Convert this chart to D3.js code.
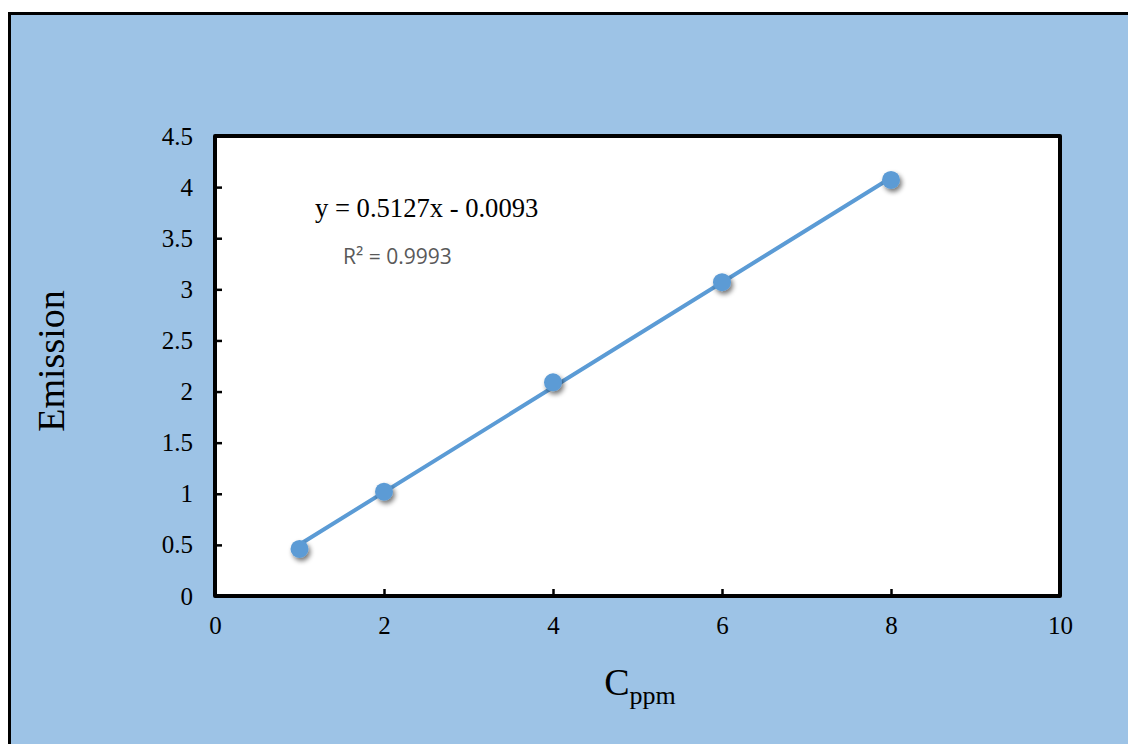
<!DOCTYPE html>
<html>
<head>
<meta charset="utf-8">
<script src="https://cdn.jsdelivr.net/npm/d3@7"></script>
<style>
  html, body { margin: 0; padding: 0; background: #ffffff; }
  svg { display: block; }
</style>
</head>
<body>
<svg id="chart" width="1128" height="744"></svg>
<script>
// Calibration data: concentration (ppm) vs. emission
const concentrations = [1, 2, 4, 6, 8];
const emissions = [0.46, 1.02, 2.09, 3.07, 4.07];

// Linear fit reported on the chart
const slope = 0.5127;
const intercept = -0.0093;
const rSquared = 0.9993;

// Axis ticks
const xTicks = [0, 2, 4, 6, 8, 10];
const yTicks = [0, 0.5, 1, 1.5, 2, 2.5, 3, 3.5, 4, 4.5];

const svg = d3.select("#chart");

// Light blue frame with black border (runs past the right/bottom edge)
svg.append("rect")
  .attr("x", 9.5).attr("y", 13.5)
  .attr("width", 1140).attr("height", 760)
  .attr("fill", "#9DC3E6")
  .attr("stroke", "#000").attr("stroke-width", 3);

const plot = { left: 215, right: 1060, top: 136, bottom: 596 };

const x = d3.scaleLinear().domain([0, 10]).range([plot.left, plot.right]);
const y = d3.scaleLinear().domain([0, 4.5]).range([plot.bottom, plot.top]);

// Marker shadow
const defs = svg.append("defs");
const f = defs.append("filter").attr("id", "shadow")
  .attr("x", "-50%").attr("y", "-50%").attr("width", "200%").attr("height", "200%");
f.append("feGaussianBlur").attr("in", "SourceAlpha").attr("stdDeviation", 2.4).attr("result", "b");
f.append("feOffset").attr("in", "b").attr("dx", 2).attr("dy", 3).attr("result", "o");
f.append("feComponentTransfer").attr("in", "o").attr("result", "s")
  .append("feFuncA").attr("type", "linear").attr("slope", 0.55);
const m = f.append("feMerge");
m.append("feMergeNode").attr("in", "s");
m.append("feMergeNode").attr("in", "SourceGraphic");

// Plot area
svg.append("rect")
  .attr("x", plot.left).attr("y", plot.top)
  .attr("width", plot.right - plot.left).attr("height", plot.bottom - plot.top)
  .attr("fill", "#ffffff");

// Fitted line across the measured range
const xMin = d3.min(concentrations), xMax = d3.max(concentrations);
svg.append("line")
  .attr("x1", x(xMin)).attr("y1", y(slope * xMin + intercept))
  .attr("x2", x(xMax)).attr("y2", y(slope * xMax + intercept))
  .attr("stroke", "#5B9BD5").attr("stroke-width", 4)
  .attr("stroke-linecap", "round");

// Data markers
svg.append("g").selectAll("circle")
  .data(concentrations.map((c, i) => ({ c, e: emissions[i] })))
  .join("circle")
  .attr("cx", d => x(d.c)).attr("cy", d => y(d.e))
  .attr("r", 9)
  .attr("fill", "#5B9BD5")
  .attr("filter", "url(#shadow)");

// Axes with inward ticks
const serif = "'Liberation Serif', 'Times New Roman', serif";
const xAxis = d3.axisBottom(x).tickValues(xTicks).tickSize(-7).tickPadding(20)
  .tickFormat(d3.format("d"));
const yAxis = d3.axisLeft(y).tickValues(yTicks).tickSize(-7).tickPadding(22)
  .tickFormat(d => String(d));

const gx = svg.append("g").attr("transform", `translate(0,${plot.bottom})`).call(xAxis);
const gy = svg.append("g").attr("transform", `translate(${plot.left},0)`).call(yAxis);
[gx, gy].forEach(g => {
  g.select(".domain").remove();
  g.selectAll(".tick line").attr("stroke", "#000").attr("stroke-width", 2.5);
  g.selectAll(".tick text").attr("fill", "#000")
    .style("font-family", serif).style("font-size", "25px");
});
gx.selectAll(".tick text").attr("dy", "0.71em");

// Plot border
svg.append("rect")
  .attr("x", plot.left).attr("y", plot.top)
  .attr("width", plot.right - plot.left).attr("height", plot.bottom - plot.top)
  .attr("fill", "none").attr("stroke", "#000").attr("stroke-width", 4)
  .attr("stroke-linejoin", "round");

// Fit annotation
svg.append("text")
  .attr("x", 315).attr("y", 217)
  .style("font-family", serif).style("font-size", "26.6px").attr("fill", "#000")
  .text(`y = ${slope}x - ${Math.abs(intercept).toFixed(4)}`);
svg.append("text")
  .attr("x", 343).attr("y", 264)
  .style("font-family", "'Open Sans', 'Liberation Sans', sans-serif")
  .style("font-size", "21px").attr("fill", "#595959")
  .text(`R² = ${rSquared}`);

// Axis titles
svg.append("text")
  .attr("transform", "translate(64,361) rotate(-90)")
  .attr("text-anchor", "middle")
  .style("font-family", serif).style("font-size", "38px").attr("fill", "#000")
  .text("Emission");

const xt = svg.append("text")
  .attr("x", 640).attr("y", 695)
  .attr("text-anchor", "middle")
  .style("font-family", serif).attr("fill", "#000");
xt.append("tspan").style("font-size", "38px").text("C");
xt.append("tspan").style("font-size", "26px").attr("dy", 9).text("ppm");
</script>
</body>
</html>
